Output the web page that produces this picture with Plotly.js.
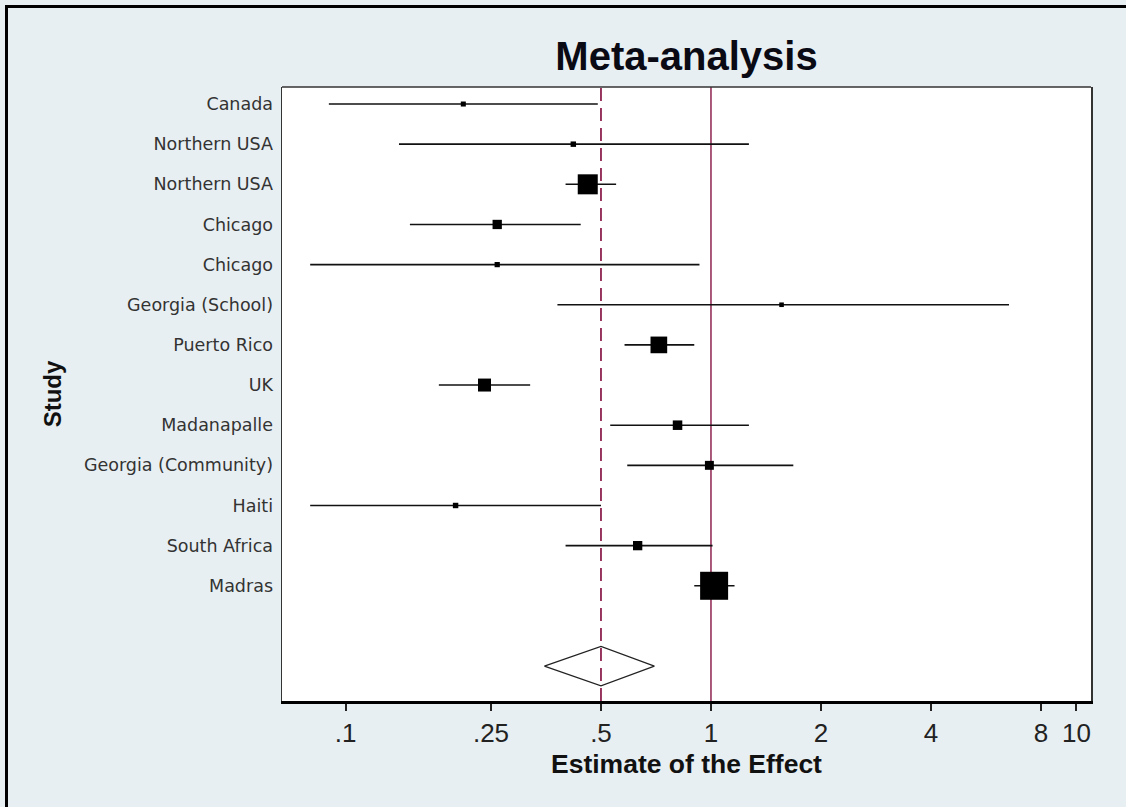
<!DOCTYPE html>
<html>
<head>
<meta charset="utf-8">
<script src="https://cdn.plot.ly/plotly-3.0.1.min.js"></script>
<style>
  html, body { margin: 0; padding: 0; background: #e8eff2; }
  #frame {
    position: absolute; left: 5px; top: 5px; right: 0; bottom: 0;
    border-left: 3px solid #000; border-top: 3px solid #000;
  }
  #chart { position: absolute; left: 0; top: 0; width: 1126px; height: 807px; }
</style>
</head>
<body>
<div id="frame"></div>
<div id="chart"></div>
<script>
// BCG trials: study, risk ratio and 95% confidence limits, weight (%)
const studies = ['Canada', 'Northern USA', 'Northern USA', 'Chicago', 'Chicago',
  'Georgia (School)', 'Puerto Rico', 'UK', 'Madanapalle', 'Georgia (Community)',
  'Haiti', 'South Africa', 'Madras'];
const estimate = [0.21, 0.42, 0.46, 0.26, 0.26, 1.56, 0.72, 0.24, 0.81, 0.99, 0.20, 0.63, 1.02];
const ciLow    = [0.09, 0.14, 0.40, 0.15, 0.08, 0.38, 0.58, 0.18, 0.53, 0.59, 0.08, 0.40, 0.90];
const ciHigh   = [0.49, 1.27, 0.55, 0.44, 0.93, 6.54, 0.90, 0.32, 1.27, 1.68, 0.50, 1.01, 1.16];
const weight   = [1.2, 1.4, 19.0, 4.1, 1.3, 1.0, 13.2, 8.0, 4.3, 3.8, 1.4, 4.1, 37.2];

// pooled estimate and its confidence limits
const pooledEst = 0.50;
const pooledLow = 0.35;
const pooledHigh = 0.70;

const xTickVals = [0.1, 0.25, 0.5, 1, 2, 4, 8, 10];
const xTickText = ['.1', '.25', '.5', '1', '2', '4', '8', '10'];

// one row per study, the diamond two rows below the last study
const rows = studies.map((_, i) => i + 1);
const diamondRow = studies.length + 2;
const diamondHalf = 0.49;

// confidence-interval segments, separated by gaps
const ciX = [], ciY = [];
rows.forEach((r, i) => { ciX.push(ciLow[i], ciHigh[i], null); ciY.push(r, r, null); });

// box area proportional to the study weight
const boxScale = 28 / Math.sqrt(Math.max(...weight));

const traces = [
  {
    x: ciX, y: ciY, type: 'scatter', mode: 'lines',
    line: { color: '#111', width: 1.6 }, hoverinfo: 'skip', showlegend: false
  },
  {
    x: estimate, y: rows, type: 'scatter', mode: 'markers',
    marker: { symbol: 'square', color: '#000', opacity: 1,
              size: weight.map(w => Math.sqrt(w) * boxScale), line: { width: 0 } },
    text: studies, showlegend: false
  },
  {
    x: [pooledLow, pooledEst, pooledHigh, pooledEst, pooledLow],
    y: [diamondRow, diamondRow - diamondHalf, diamondRow, diamondRow + diamondHalf, diamondRow],
    type: 'scatter', mode: 'lines', line: { color: '#222', width: 1.2 },
    hoverinfo: 'skip', showlegend: false
  }
];

const refColor = '#8e2350';
const sans = 'Liberation Sans, Arial, sans-serif';

const layout = {
  width: 1126, height: 807,
  paper_bgcolor: 'rgba(0,0,0,0)', plot_bgcolor: '#ffffff',
  margin: { l: 282, r: 35, t: 87, b: 106 },
  showlegend: false,
  title: {
    text: 'Meta-analysis', x: 0.5, xref: 'paper', xanchor: 'center',
    y: 1 - 56 / 807, yanchor: 'middle',
    font: { family: sans, size: 40, weight: 'bold', color: '#0a0a14' }
  },
  xaxis: {
    type: 'log', range: [-1.174, 1.040],
    tickvals: xTickVals, ticktext: xTickText,
    ticks: 'outside', ticklen: 7, tickwidth: 2, tickcolor: '#222',
    ticklabelstandoff: 0,
    showgrid: false, zeroline: false,
    showline: true, linecolor: '#000', linewidth: 3,
    tickfont: { family: sans, size: 26, color: '#222' },
    automargin: false
  },
  yaxis: {
    range: [15.87, 0.576],
    tickvals: rows, ticktext: studies,
    ticks: '', showgrid: false, zeroline: false,
    showline: true, mirror: true, linecolor: '#333', linewidth: 1.5,
    tickfont: { family: 'DejaVu Sans, sans-serif', size: 17.5, color: '#333' },
    ticklabelstandoff: 4,
    title: {
      text: 'Study', standoff: 15,
      font: { family: sans, size: 24, weight: 'bold', color: '#111' }
    },
    automargin: false
  },
  annotations: [
    { text: 'Estimate of the Effect', xref: 'paper', yref: 'paper',
      x: 0.5, xanchor: 'center', y: -(764 - 701) / 614, yanchor: 'middle',
      showarrow: false,
      font: { family: sans, size: 26.5, weight: 'bold', color: '#111' } }
  ],
  shapes: [
    // top border of the plot area
    { type: 'line', xref: 'paper', yref: 'paper', x0: 0, x1: 1, y0: 1, y1: 1,
      line: { color: '#333', width: 1.5 } },
    // pooled estimate
    { type: 'line', xref: 'x', yref: 'paper', x0: pooledEst, x1: pooledEst, y0: 0, y1: 1,
      line: { color: refColor, width: 1.8, dash: '13px,7px' }, layer: 'below' },
    // line of no effect
    { type: 'line', xref: 'x', yref: 'paper', x0: 1, x1: 1, y0: 0, y1: 1,
      line: { color: refColor, width: 1.5 }, layer: 'below' }
  ]
};

Plotly.newPlot('chart', traces, layout, { displayModeBar: false, staticPlot: true });
</script>
</body>
</html>
